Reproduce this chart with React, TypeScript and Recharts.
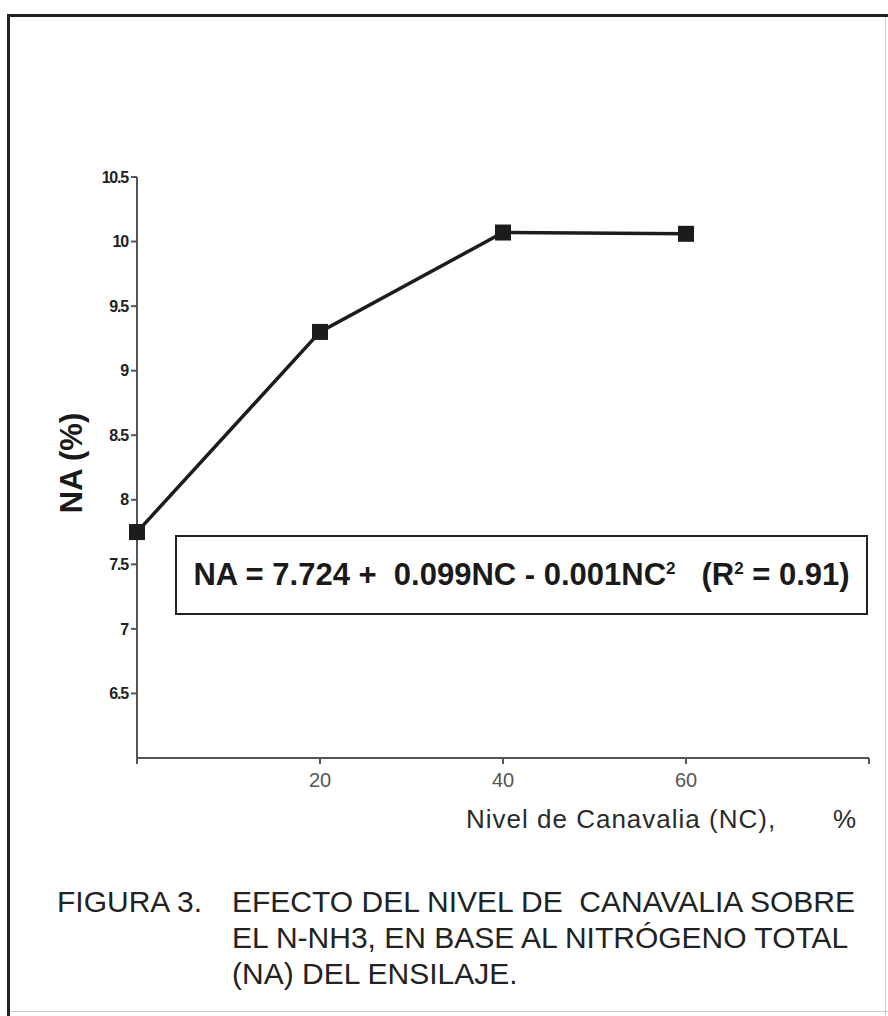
import React from 'react';
import { LineChart, Line, XAxis, YAxis } from 'recharts';

const nivelCanavalia = [0, 20, 40, 60];
const nitrogenoAmoniacal = [7.75, 9.3, 10.07, 10.06];
const xTicks = [0, 20, 40, 60, 80];
const yTicks = [6.5, 7, 7.5, 8, 8.5, 9, 9.5, 10, 10.5];

const data = nivelCanavalia.map((nc, i) => ({ nc, na: nitrogenoAmoniacal[i] }));

const FONT = '"Liberation Sans", Arial, sans-serif';

const SquareDot = (props: any) => {
  const { cx, cy, index } = props;
  if (cx == null || cy == null) return null;
  const s = 16;
  return <rect key={`d${index}`} x={cx - s / 2} y={cy - s / 2} width={s} height={s} fill="#1c1c1c" />;
};

export default function App() {
  return (
    <div
      style={{
        position: 'absolute',
        left: 0,
        top: 0,
        width: 888,
        height: 1016,
        background: '#ffffff',
        overflow: 'hidden',
        fontFamily: FONT,
      }}
    >
      {/* frame */}
      <div style={{ position: 'absolute', left: 7, top: 14, width: 881, height: 3, background: '#222' }} />
      <div style={{ position: 'absolute', left: 7, top: 14, width: 3, height: 1002, background: '#222' }} />
      <div style={{ position: 'absolute', left: 885, top: 17, width: 1, height: 999, background: '#d0d0d0' }} />
      <div style={{ position: 'absolute', left: 10, top: 1011, width: 878, height: 1, background: '#c8c8c8' }} />

      <LineChart
        width={888}
        height={1016}
        data={data}
        margin={{ top: 177, right: 19, bottom: 228, left: 77 }}
        style={{ position: 'absolute', left: 0, top: 0 }}
      >
        <XAxis
          type="number"
          dataKey="nc"
          domain={[0, 80]}
          ticks={xTicks}
          tickFormatter={(v: number) => (v === 0 || v === 80 ? '' : String(v))}
          height={30}
          stroke="#555"
          strokeWidth={2}
          tickSize={6}
          tickMargin={9}
          tick={{ fontSize: 20, fill: '#555', fontFamily: FONT }}
        />
        <YAxis
          type="number"
          dataKey="na"
          domain={[6, 10.5]}
          ticks={yTicks}
          width={60}
          stroke="#555"
          strokeWidth={2}
          tickSize={6}
          tickMargin={3}
          tick={{ fontSize: 16, fill: '#222', fontWeight: 'bold', fontFamily: FONT, letterSpacing: -1.2 }}
        />
        <Line
          type="linear"
          dataKey="na"
          stroke="#1c1c1c"
          strokeWidth={3.5}
          dot={<SquareDot />}
          activeDot={false}
          isAnimationActive={false}
        />
      </LineChart>

      {/* y axis title */}
      <div
        style={{
          position: 'absolute',
          left: 72,
          top: 463,
          transform: 'translate(-50%, -50%) rotate(-90deg)',
          fontSize: 31,
          fontWeight: 'bold',
          color: '#1a1a1a',
          whiteSpace: 'pre',
          lineHeight: '36px',
        }}
      >
        NA (%)
      </div>

      {/* equation box */}
      <div
        style={{
          position: 'absolute',
          left: 175,
          top: 535,
          width: 689,
          height: 76,
          border: '2px solid #222',
          display: 'flex',
          alignItems: 'center',
          justifyContent: 'center',
          fontSize: 31,
          fontWeight: 'bold',
          color: '#1a1a1a',
          whiteSpace: 'pre',
        }}
      >
        <span>
          NA = 7.724 +  0.099NC - 0.001NC<sup style={{ fontSize: 17 }}>2</sup>   (R<sup style={{ fontSize: 17 }}>2</sup> = 0.91)
        </span>
      </div>

      {/* x axis title */}
      <div
        style={{
          position: 'absolute',
          left: 466,
          top: 803,
          fontSize: 26,
          color: '#2a2a2a',
          whiteSpace: 'pre',
          lineHeight: '32px',
          letterSpacing: 1,
        }}
      >
        Nivel de Canavalia (NC),
      </div>
      <div
        style={{
          position: 'absolute',
          left: 833,
          top: 803,
          fontSize: 26,
          color: '#2a2a2a',
          lineHeight: '32px',
        }}
      >
        %
      </div>

      {/* caption */}
      <div
        style={{
          position: 'absolute',
          left: 57,
          top: 884,
          fontSize: 30,
          color: '#222',
          lineHeight: '36px',
          whiteSpace: 'pre',
        }}
      >
        FIGURA 3.
      </div>
      <div
        style={{
          position: 'absolute',
          left: 232,
          top: 884,
          fontSize: 30,
          color: '#222',
          lineHeight: '36px',
          whiteSpace: 'pre',
        }}
      >
        {'EFECTO DEL NIVEL DE  CANAVALIA SOBRE\nEL N-NH3, EN BASE AL NITRÓGENO TOTAL\n(NA) DEL ENSILAJE.'}
      </div>
    </div>
  );
}
